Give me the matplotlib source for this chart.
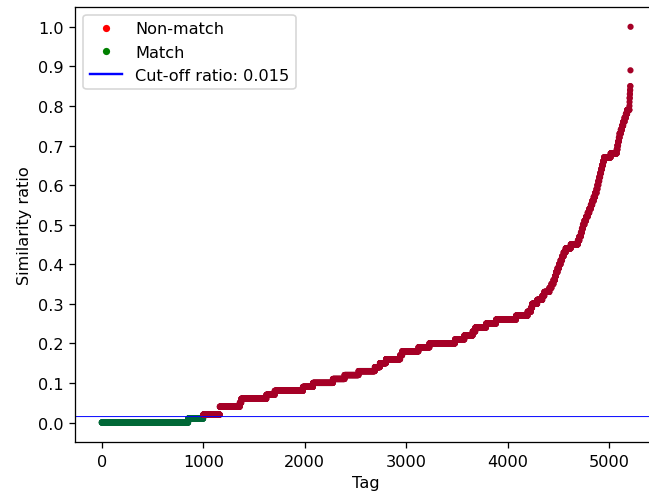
import numpy as np
import matplotlib
matplotlib.use("Agg")
import matplotlib.pyplot as plt
from matplotlib.lines import Line2D

# similarity ratio levels (sorted) and how many tags sit on each level
levels = [0.00, 0.01, 0.02, 0.04, 0.05, 0.06, 0.07, 0.08, 0.09, 0.10,
          0.11, 0.12, 0.13, 0.14, 0.15, 0.16, 0.17, 0.18, 0.19, 0.20,
          0.21, 0.22, 0.23, 0.24, 0.25, 0.26, 0.27, 0.28, 0.29, 0.30,
          0.31, 0.32, 0.33, 0.34, 0.35, 0.36, 0.37, 0.38, 0.39, 0.40,
          0.41, 0.42, 0.43, 0.44, 0.45, 0.46, 0.47, 0.48, 0.49, 0.50,
          0.51, 0.52, 0.53, 0.54, 0.55, 0.56, 0.57, 0.58, 0.59, 0.60,
          0.61, 0.62, 0.63, 0.64, 0.65, 0.66, 0.67, 0.68, 0.69, 0.70,
          0.71, 0.72, 0.73, 0.74, 0.75, 0.76, 0.77, 0.78, 0.79, 0.80,
          0.81, 0.82, 0.83, 0.84, 0.85, 0.89, 1.00]
counts = [852, 148, 163, 197, 15, 247, 82, 278, 99, 196,
          115, 138, 160, 50, 60, 140, 20, 160, 108, 252,
          92, 82, 26, 106, 98, 197, 114, 33, 12, 50,
          50, 20, 50, 20, 20, 15, 10, 15, 15, 15,
          15, 15, 20, 50, 70, 15, 15, 10, 10, 15,
          16, 16, 16, 15, 14, 14, 14, 14, 9, 9,
          9, 9, 9, 9, 10, 10, 65, 60, 7, 7,
          7, 7, 12, 12, 12, 13, 13, 13, 22, 1,
          1, 2, 2, 2, 2, 1, 1]

cutoff = 0.015

ratio = np.repeat(levels, counts)
tag = np.arange(len(ratio))
match = ratio < cutoff

dpi = 116
fig = plt.figure(figsize=(649 / dpi, 496 / dpi), dpi=dpi)
ax = fig.add_axes([75.3 / 649, 52.7 / 496, (657 - 75.3) / 649, (488 - 52.7) / 496])

ax.scatter(tag, ratio, c=match, cmap="RdYlGn", s=8)
ax.axhline(cutoff, color="blue", linewidth=0.6, snap=False)

ax.set_yticks(np.arange(0, 1.01, 0.1))
ax.set_xlabel("Tag")
ax.set_ylabel("Similarity ratio")

handles = [
    Line2D([0], [0], marker="o", color="w", markerfacecolor="red", markersize=5.5, label="Non-match"),
    Line2D([0], [0], marker="o", color="w", markerfacecolor="green", markersize=5.5, label="Match"),
    Line2D([0], [0], color="blue", label="Cut-off ratio: %.3f" % cutoff),
]
ax.legend(handles=handles, loc="upper left")

fig.savefig("out.png", dpi=dpi)
